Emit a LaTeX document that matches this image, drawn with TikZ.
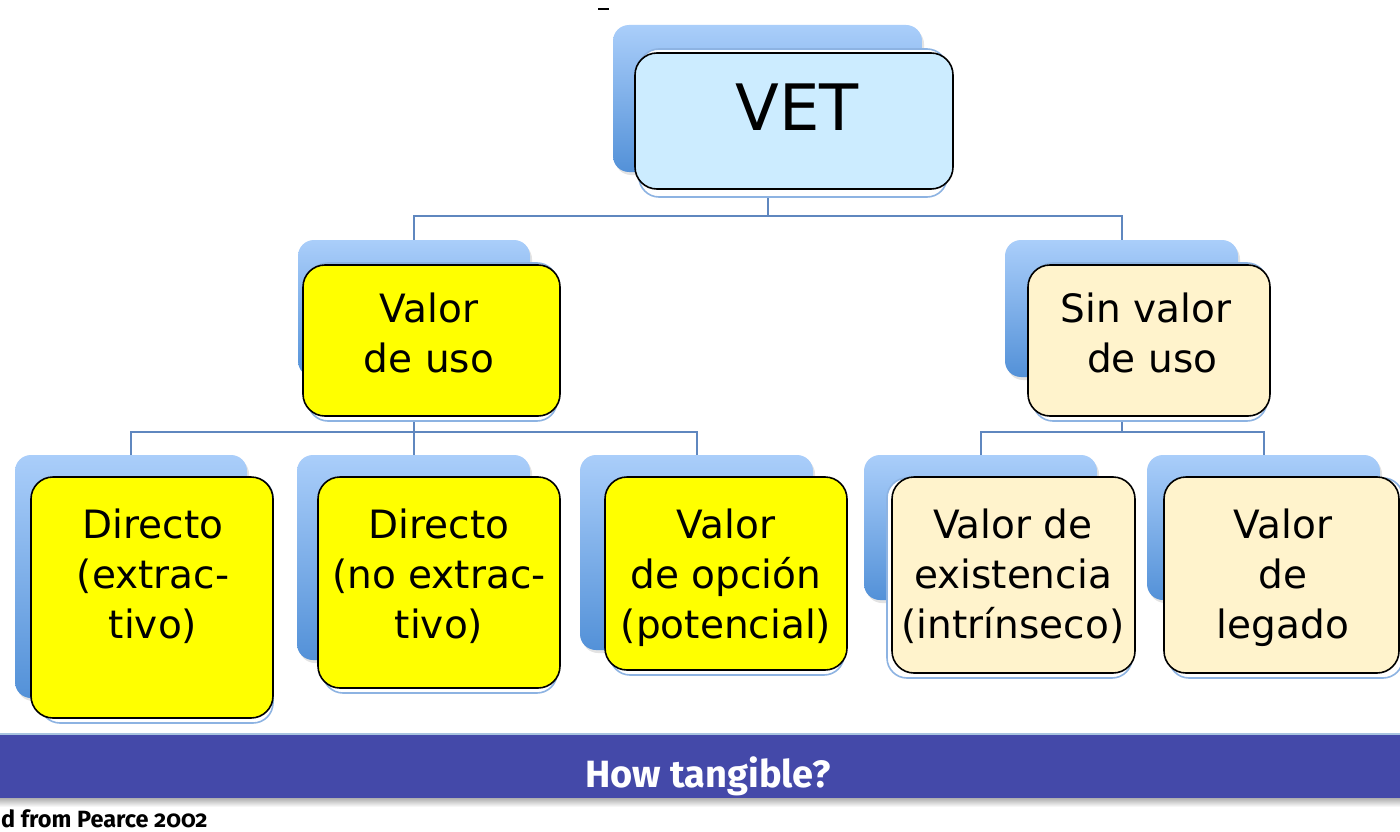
\documentclass[tikz,border=0pt]{standalone}
\usepackage{fontspec}
\setmainfont{DejaVu Sans}
\newfontfamily\barfont{Fira Sans}[Numbers=OldStyle]
\usetikzlibrary{fit,shadows}
\definecolor{sTop}{HTML}{AACEFA}
\definecolor{sBot}{HTML}{5391D8}
\definecolor{lightb}{HTML}{8DB3E2}
\definecolor{connc}{HTML}{5F87BF}
\definecolor{vetfill}{HTML}{CCECFF}
\definecolor{creamfill}{HTML}{FFF3CC}
\definecolor{yel}{RGB}{255,255,0}
\definecolor{barc}{HTML}{4449A9}
\definecolor{barline}{HTML}{A8C4E0}
\newcommand\txtlines[1]{\begin{tabular}[t]{@{}c@{}}#1\end{tabular}}
\begin{document}
\begin{tikzpicture}[x=1pt,y=-1pt,
  sbox/.style={rectangle, rounded corners=16pt, inner sep=0pt, draw=none,
    top color=sTop, bottom color=sBot,
    drop shadow={opacity=0.22, shadow xshift=2pt, shadow yshift=-3pt}},
  lbox/.style={rectangle, rounded corners=20pt, inner sep=0pt, fill=white, draw=lightb, line width=1.6pt},
  frontbox/.style={rectangle, rounded corners=22pt, inner sep=0pt, draw=black, line width=1.6pt},
  boxtext/.style={anchor=base, inner sep=0pt, font=\fontsize{39}{50}\selectfont},
  conn/.style={draw=connc, line width=2pt}]
\useasboundingbox (0,0) rectangle (1400,832);
\fill[white] (0,0) rectangle (1400,832);

% small dash at top
\draw[line width=1.6pt] (598,9) -- (609,9);

% shadow (gradient) boxes
\node[sbox, fit={(613,25) (922,172)}] (vetS) {};
\node[sbox, fit={(298,240) (530,377)}] (usoS) {};
\node[sbox, fit={(1005,240) (1238,377)}] (sinS) {};
\node[sbox, fit={(15,455) (247,698)}] (d1S) {};
\node[sbox, fit={(297,455) (530,660)}] (d2S) {};
\node[sbox, fit={(580,455) (813,650)}] (opS) {};
\node[sbox, fit={(864,455) (1097,600)}] (exS) {};
\node[sbox, fit={(1147,455) (1380,600)}] (legS) {};

% connectors
\draw[conn] (vetS.south) -- ++(0,44) -| (usoS.north);
\draw[conn] (vetS.south) -- ++(0,44) -| (sinS.north);
\draw[conn] (usoS.south) -- ++(0,55) -| (d1S.north);
\draw[conn] (usoS.south) -- ++(0,55) -| (d2S.north);
\draw[conn] (usoS.south) -- ++(0,55) -| (opS.north);
\draw[conn] (sinS.south) -- ++(0,55) -| (exS.north);
\draw[conn] (sinS.south) -- ++(0,55) -| (legS.north);

% light outline boxes
\node[lbox, fit={(639,49) (947,197)}] (vetL) {};
\node[lbox, fit={(308,263) (557,421)}] (usoL) {};
\node[lbox, fit={(1033,263) (1267,421)}] (sinL) {};
\node[lbox, fit={(40,478) (273,723)}] (d1L) {};
\node[lbox, fit={(323,478) (557,693)}] (d2L) {};
\node[lbox, fit={(610,478) (844,675)}] (opL) {};
\node[lbox, fit={(887,478) (1132,678)}] (exL) {};
\node[lbox, fit={(1169,478) (1403,678)}] (legL) {};

% front boxes
\node[frontbox, fill=vetfill, fit={(635,53) (953,189)}] (vet) {};
\node[frontbox, fill=yel, fit={(303,265) (560,416)}] (uso) {};
\node[frontbox, fill=creamfill, fit={(1028,265) (1270,416)}] (sin) {};
\node[frontbox, fill=yel, fit={(31,477) (273,718)}] (d1) {};
\node[frontbox, fill=yel, fit={(318,477) (560,688)}] (d2) {};
\node[frontbox, fill=yel, fit={(605,477) (847,670)}] (op) {};
\node[frontbox, fill=creamfill, fit={(892,477) (1135,673)}] (ex) {};
\node[frontbox, fill=creamfill, fit={(1164,477) (1399,673)}] (leg) {};

% texts
\node[anchor=base, inner sep=0pt, font=\fontsize{64}{70}\selectfont] (vetT) at (797,131) {VET};
\node[boxtext] (usoT) at (429,322) {\txtlines{Valor\\de uso}};
\node[boxtext] (sinT) at (1146,322) {\txtlines{Sin valor\\\ de uso}};
\node[boxtext] (d1T) at (153,538) {\txtlines{Directo\\(extrac-\\tivo)}};
\node[boxtext] (d2T) at (439,538) {\txtlines{Directo\\(no extrac-\\tivo)}};
\node[boxtext] (opT) at (726,538) {\txtlines{Valor\\de opción\\(potencial)}};
\node[boxtext] (exT) at (1013,538) {\txtlines{Valor de\\existencia\\(intrínseco)}};
\node[boxtext] (legT) at (1283,538) {\txtlines{Valor\\de\\legado}};

% bottom bar
\shade[top color=black!35, bottom color=white] (0,797) rectangle (1400,807);
\node[rectangle, fill=barc, inner sep=0pt, minimum width=1400pt, minimum height=64pt] (bar) at (700,766) {};
\draw[barline, line width=1.5pt] (bar.north west) -- (bar.north east);
\node[anchor=base, text=white, inner sep=0pt, font=\barfont\bfseries\fontsize{38}{40}\selectfont] (howt) at (708,787) {How tangible?};
\node[anchor=base west, inner sep=0pt, font=\barfont\bfseries\fontsize{23.5}{26}\selectfont] (src) at (1,827) {d from Pearce 2002};
\end{tikzpicture}
\end{document}
